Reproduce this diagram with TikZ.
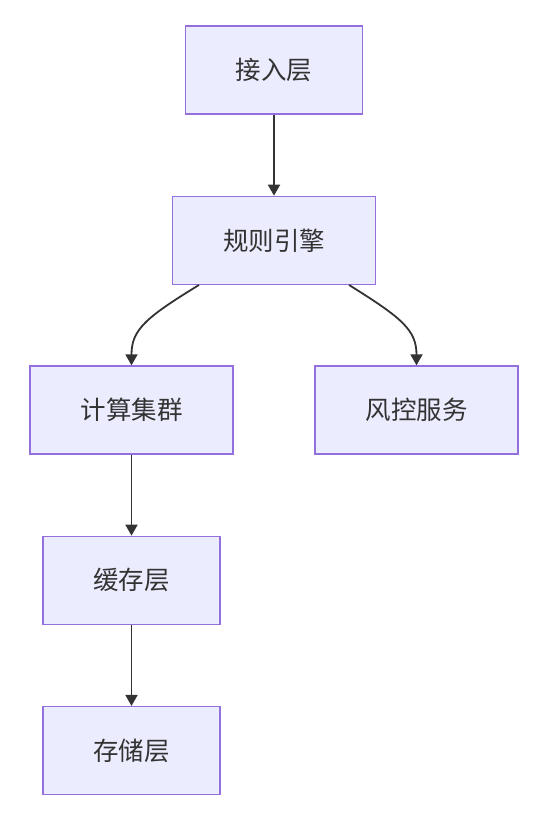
\documentclass[tikz,border=0pt]{standalone}
\usepackage{fontspec}
\setmainfont{Noto Sans CJK SC}
\usepackage{xcolor}
\usetikzlibrary{arrows.meta, positioning}

\definecolor{boxfill}{HTML}{ECECFF}
\definecolor{boxline}{HTML}{9370DB}
\definecolor{inkdark}{HTML}{333333}

\begin{document}
\begin{tikzpicture}[
    x=1pt, y=1pt,
    node distance=81pt,
    layer/.style={rectangle, draw=boxline, fill=boxfill, line width=1.3pt, text=inkdark, minimum width=177pt, minimum height=88pt, inner sep=0pt, font=\fontsize{25.5}{30}\selectfont},
    wide/.style={layer, minimum width=203pt},
    arrow/.style={draw=inkdark, line width=1.8pt, -{Triangle[length=11pt, width=12pt]}}
  ]
    \useasboundingbox (0,0) rectangle (548,-838);

    % Nodes
    \node (access) [layer] at (274,-70) {接入层};
    \node (rules) [wide, below=of access] {规则引擎};
    \node (compute) [wide] at (131.5,-410) {计算集群};
    \node (risk) [wide] at (416.5,-410) {风控服务};
    \node (cache) [layer, below=of compute] {缓存层};
    \node (storage) [layer, below=of cache] {存储层};

    % Connections
    \draw [arrow] (access) -- (rules);
    \draw [arrow] ([xshift=-75pt]rules.south) .. controls (145,-318) and (131.5,-330) .. (compute.north);
    \draw [arrow] ([xshift=75pt]rules.south) .. controls (402,-318) and (416.5,-330) .. (risk.north);
    \draw [arrow] (compute) -- (cache);
    \draw [arrow] (cache) -- (storage);

  \end{tikzpicture}
\end{document}
